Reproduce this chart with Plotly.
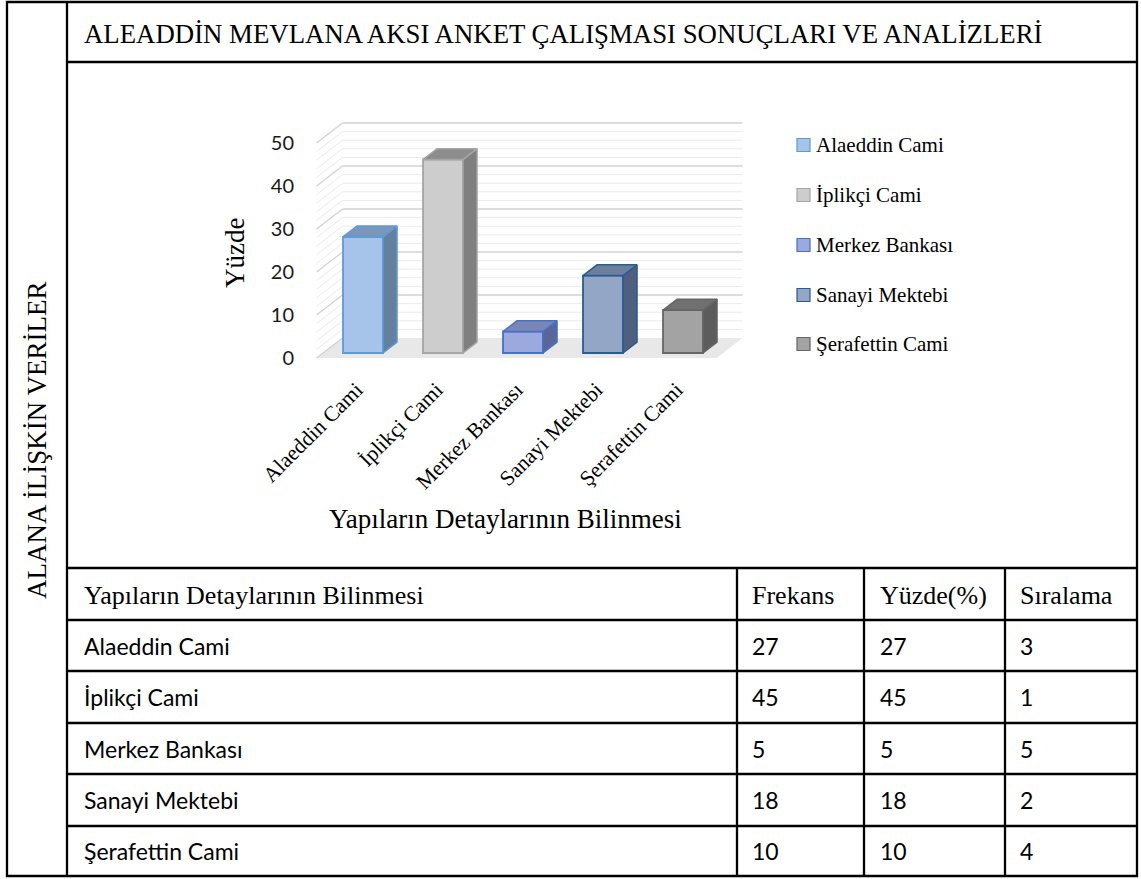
import plotly.graph_objects as go

W, H = 1141, 879

# ---- data -------------------------------------------------------------
CATEGORIES = ["Alaeddin Cami", "İplikçi Cami", "Merkez Bankası", "Sanayi Mektebi", "Şerafettin Cami"]
FREKANS = [27, 45, 5, 18, 10]
YUZDE = [27, 45, 5, 18, 10]
SIRALAMA = [3, 1, 5, 2, 4]
Y_TICKS = [0, 10, 20, 30, 40, 50]

TITLE = "ALEADDİN MEVLANA AKSI ANKET ÇALIŞMASI SONUÇLARI VE ANALİZLERİ"
SIDE_LABEL = "ALANA İLİŞKİN VERİLER"
X_TITLE = "Yapıların Detaylarının Bilinmesi"
Y_TITLE = "Yüzde"
TABLE_HEADER = ["Yapıların Detaylarının Bilinmesi", "Frekans", "Yüzde(%)", "Sıralama"]

# ---- styles per column: front, top, side, outline ---------------------
FRONT = ["#a6c4ea", "#cdcdcd", "#9ca9df", "#93a6c6", "#a3a3a3"]
TOP = ["#7b96bb", "#8d8d8d", "#7a86b8", "#6e7f9e", "#707070"]
SIDE = ["#63809f", "#7f7f7f", "#5a6699", "#4e5f7f", "#5c5c5c"]
EDGE = ["#5b9bd5", "#a5a5a5", "#4472c4", "#2a5d8f", "#666666"]

SERIF = "Liberation Serif"
SANS = "Lato"

# ---- page geometry ----------------------------------------------------
def PX(x):
    return x / W


def PY(y):
    return 1 - y / H


# plot area in pixels and the scale of the chart's front plane
L, R, T, B = 295, 770, 100, 372
X_ORIGIN, X_UNIT = 356.5, 80.0   # pixel of category 0, pixels per category
Y_ORIGIN, Y_UNIT = 358.0, 4.3    # pixel of value 0, pixels per percent

# oblique depth of the 3-D box (category units / value units)
KX, KY = 0.325, 4.65
D_FRONT, D_BACK = 0.25, 0.79     # bar depth inside the box
HALF = 0.25                      # half bar width
X_MIN, X_MAX = -0.5, len(CATEGORIES) - 0.5

fig = go.Figure()

shapes = []

# floor of the 3-D box
shapes.append(dict(
    type="path", xref="x", yref="y", layer="below",
    path=f"M{X_MIN},0 L{X_MAX},0 L{X_MAX + KX},{KY} L{X_MIN + KX},{KY} Z",
    fillcolor="#e8e8e8", line=dict(width=0),
))

# gridlines on back wall and left side wall
for v in range(0, Y_TICKS[-1] + 1, 2):
    major = v % 10 == 0
    col = "#d2d2d2" if major else "#ebebeb"
    wdt = 1.3 if major else 1.0
    if v > 0:
        shapes.append(dict(type="line", xref="x", yref="y", layer="below",
                           x0=X_MIN + KX, y0=v + KY, x1=X_MAX + KX, y1=v + KY,
                           line=dict(color=col, width=wdt)))
    shapes.append(dict(type="line", xref="x", yref="y", layer="below",
                       x0=X_MIN, y0=v, x1=X_MIN + KX, y1=v + KY,
                       line=dict(color=col, width=wdt)))

# columns: front face as a bar, side and top faces as filled polygons
for i, (name, val) in enumerate(zip(CATEGORIES, YUZDE)):
    fig.add_trace(go.Bar(
        x=[i + D_FRONT * KX], y=[val], base=[D_FRONT * KY], width=[2 * HALF],
        marker=dict(color=FRONT[i], line=dict(color=EDGE[i], width=1.8)),
        name=name, showlegend=False, hoverinfo="skip",
    ))
    xl, xr = i - HALF, i + HALF
    fx, fy = D_FRONT * KX, D_FRONT * KY
    bx, by = D_BACK * KX, D_BACK * KY
    side_x = [xr + fx, xr + bx, xr + bx, xr + fx, xr + fx]
    side_y = [fy, by, val + by, val + fy, fy]
    top_x = [xl + fx, xr + fx, xr + bx, xl + bx, xl + fx]
    top_y = [val + fy, val + fy, val + by, val + by, val + fy]
    for xs, ys, c in ((side_x, side_y, SIDE[i]), (top_x, top_y, TOP[i])):
        fig.add_trace(go.Scatter(
            x=xs, y=ys, mode="lines", fill="toself", fillcolor=c,
            line=dict(color=EDGE[i], width=1.5),
            showlegend=False, hoverinfo="skip",
        ))

# ---- frame lines of the page table ------------------------------------
LINE = dict(color="#000000", width=2.3)
FX0, FX1, FY0, FY1 = 7, 1137, 2, 876
INNER_X = 67
TITLE_LINE_Y = 62
ROW_LINES = [568, 620, 671, 723, 774, 826]
COL_LINES = [737, 864, 1005]

def hline(y, x0, x1):
    shapes.append(dict(type="line", xref="paper", yref="paper",
                       x0=PX(x0), x1=PX(x1), y0=PY(y), y1=PY(y), line=LINE))

def vline(x, y0, y1):
    shapes.append(dict(type="line", xref="paper", yref="paper",
                       x0=PX(x), x1=PX(x), y0=PY(y0), y1=PY(y1), line=LINE))

shapes.append(dict(type="rect", xref="paper", yref="paper",
                   x0=PX(FX0), x1=PX(FX1), y0=PY(FY1), y1=PY(FY0), line=LINE))
vline(INNER_X, FY0, FY1)
hline(TITLE_LINE_Y, INNER_X, FX1)
for y in ROW_LINES:
    hline(y, INNER_X, FX1)
for x in COL_LINES:
    vline(x, ROW_LINES[0], FY1)

# ---- texts ------------------------------------------------------------
ann = []

def text(s, x, y, size, family=SERIF, xanchor="left", angle=0):
    ann.append(dict(text=s, x=PX(x), y=PY(y), xref="paper", yref="paper",
                    xanchor=xanchor, yanchor="middle", showarrow=False,
                    textangle=angle, font=dict(family=family, size=size, color="#000000")))

text(TITLE, 82, 34, 26.8)
text(SIDE_LABEL, 37, 441, 27, xanchor="center", angle=-90)
text(Y_TITLE, 235, 253, 27, xanchor="center", angle=-90)
text(X_TITLE, 505, 519, 27, xanchor="center")

# legend
LEG_Y = [145, 195, 245, 295, 344]
for i, name in enumerate(CATEGORIES):
    y = LEG_Y[i]
    shapes.append(dict(type="rect", xref="paper", yref="paper",
                       x0=PX(797), x1=PX(810), y0=PY(y + 6.5), y1=PY(y - 6.5),
                       fillcolor=FRONT[i], line=dict(color=EDGE[i], width=1.2)))
    text(name, 814, y, 21)

# table
COL_TEXT_X = [82, 750, 878, 1018]
HEADER_Y = 595
for s, x in zip(TABLE_HEADER, COL_TEXT_X):
    text(s, x, HEADER_Y, 26)
for r, name in enumerate(CATEGORIES):
    y = (ROW_LINES[r + 1] + (ROW_LINES[r + 2] if r + 2 < len(ROW_LINES) else FY1)) / 2
    for s, x in zip([name, FREKANS[r], YUZDE[r], SIRALAMA[r]], COL_TEXT_X):
        text(str(s), x, y, 23, family=SANS)

fig.update_layout(
    width=W, height=H, margin=dict(l=0, r=0, t=0, b=0, autoexpand=False),
    paper_bgcolor="#ffffff", plot_bgcolor="rgba(0,0,0,0)",
    barmode="overlay", showlegend=False,
    shapes=shapes, annotations=ann,
    xaxis=dict(
        domain=[PX(L), PX(R)], automargin=False,
        range=[(L - X_ORIGIN) / X_UNIT, (R - X_ORIGIN) / X_UNIT],
        tickvals=list(range(len(CATEGORIES))), ticktext=CATEGORIES,
        tickangle=-45, tickfont=dict(family=SERIF, size=21.5, color="#000000"),
        showgrid=False, zeroline=False, showline=False, ticks="",
    ),
    yaxis=dict(
        domain=[PY(B), PY(T)], automargin=False,
        range=[(Y_ORIGIN - B) / Y_UNIT, (Y_ORIGIN - T) / Y_UNIT],
        tickvals=Y_TICKS, tickfont=dict(family=SANS, size=20, color="#1a1a1a"),
        showgrid=False, zeroline=False, showline=False, ticks="",
    ),
)

fig.write_html("out.html")
